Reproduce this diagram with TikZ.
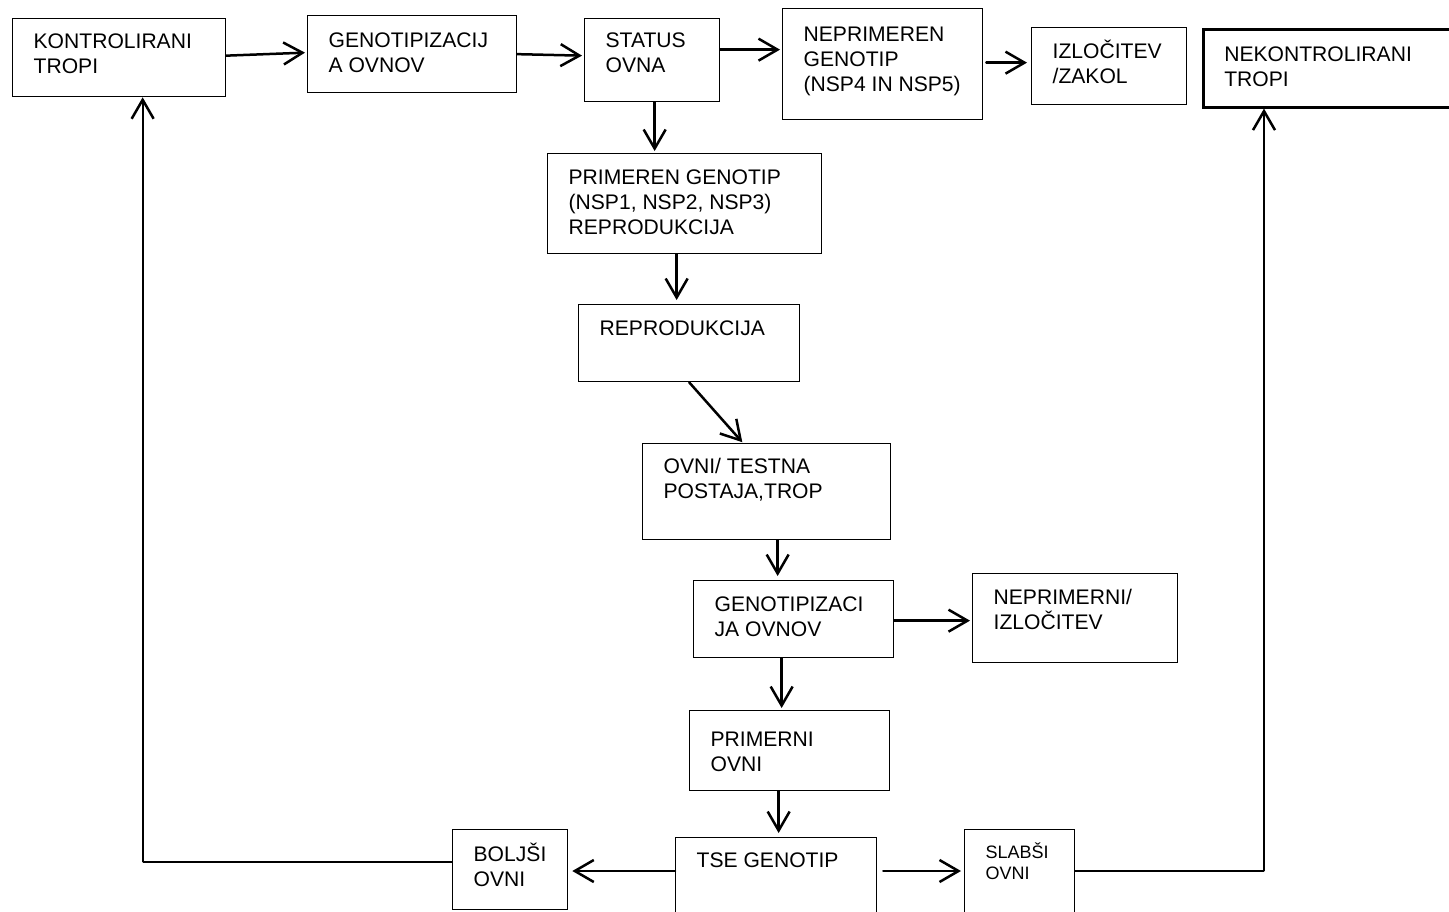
\documentclass[tikz,border=0pt]{standalone}
\usepackage{fontspec}
\setmainfont{Liberation Sans}
\usetikzlibrary{arrows.meta,calc}

% Box text: width, height, gap above first line, lines of text
\newcommand\flowtext[4]{%
  \parbox[c][#2][t]{#1}{\raggedright\leftskip=21pt\relax
    \vspace*{#3}\rule{0pt}{1em}#4}}

\tikzset{
  box/.style={draw=black, line width=1.3pt, anchor=north west, inner sep=0pt,
    font=\fontsize{21.1pt}{25pt}\selectfont},
  smallbox/.style={box, font=\fontsize{18pt}{21pt}\selectfont},
  heavybox/.style={box, line width=2.6pt},
  arr/.style={line width=2.5pt, line cap=round,
    -{Straight Barb[length=19pt,width=22pt,line width=2.5pt]}},
  link/.style={line width=2pt, line join=miter},
  longarr/.style={line width=2pt, line cap=round,
    -{Straight Barb[length=19pt,width=22pt,line width=2.5pt]}},
}

\begin{document}
\begin{tikzpicture}[x=1pt, y=-1pt]
\useasboundingbox (0,0) rectangle (1449,911);
\clip (0,0) rectangle (1449,911);

% top row
\node[box] (k)  at (12,18)   {\flowtext{213pt}{78pt}{9pt}{KONTROLIRANI\\TROPI}};
\node[box] (g)  at (307,15)  {\flowtext{209pt}{77pt}{11pt}{GENOTIPIZACIJ\\A OVNOV}};
\node[box] (s)  at (584,18)  {\flowtext{135pt}{83pt}{8pt}{STATUS\\OVNA}};
\node[box] (n)  at (782,8)   {\flowtext{200pt}{111pt}{12pt}{NEPRIMEREN\\GENOTIP\\(NSP4 IN NSP5)}};
\node[box] (i)  at (1031,27) {\flowtext{155pt}{77pt}{10pt}{IZLOČITEV\\/ZAKOL}};
\node[heavybox] (nk) at (1202,28) {\flowtext{270pt}{78pt}{11pt}{NEKONTROLIRANI\\TROPI}};

% central column
\node[box] (p)  at (547,153) {\flowtext{274pt}{100pt}{10pt}{PRIMEREN GENOTIP\\(NSP1, NSP2, NSP3)\\REPRODUKCIJA}};
\node[box] (r)  at (578,304) {\flowtext{221pt}{77pt}{10pt}{REPRODUKCIJA}};
\node[box] (o)  at (642,443) {\flowtext{248pt}{96pt}{9pt}{OVNI/ TESTNA\\POSTAJA,TROP}};
\node[box] (g2) at (693,580) {\flowtext{200pt}{77pt}{10pt}{GENOTIPIZACI\\JA OVNOV}};
\node[box] (ne) at (972,573) {\flowtext{205pt}{89pt}{10pt}{NEPRIMERNI/\\IZLOČITEV}};
\node[box] (pr) at (689,710) {\flowtext{200pt}{80pt}{15pt}{PRIMERNI\\OVNI}};

% bottom row
\node[box] (b)  at (452,829) {\flowtext{115pt}{80pt}{11pt}{BOLJŠI\\OVNI}};
\node[box] (t)  at (675,837) {\flowtext{201pt}{90pt}{9pt}{TSE GENOTIP}};
\node[smallbox] (sl) at (964,829) {\flowtext{110pt}{90pt}{11pt}{SLABŠI\\OVNI}};

% connector end points
\coordinate (s1) at ($(s.south)+(2.5,0)$);
\coordinate (p1) at ($(p.south)+(-8,0)$);
\coordinate (o1) at ($(o.south)+(11,0)$);
\coordinate (g1) at ($(g2.south)+(-12,0)$);
\coordinate (pr1) at ($(pr.south)+(-11,0)$);
\coordinate (t1) at ($(t.north west)+(0,34)$);
\coordinate (t2) at ($(t.north east)+(6,34)$);
\coordinate (b1) at ($(b.west)+(0,-8)$);
\coordinate (k1) at ($(k.south)+(23.5,0)$);
\coordinate (sl1) at ($(sl.east)+(0,-4)$);
\coordinate (nk1) at ($(nk.south west)+(62,0)$);

% top row connectors
\draw[arr] ($(k.east)+(0,-2)$) -- ($(g.west)+(-2,-1.5)$);
\draw[arr] (g.east) -- ($(s.west)+(-2,-4.5)$);
\draw[arr] ($(s.east)+(0,-10.5)$) -- ($(n.west)+(-2,-14.5)$);
\draw[arr] ($(n.east)+(3,-1.5)$) -- ($(i.west)+(-4,-3.5)$);

% central column connectors
\draw[arr, shorten >=2pt] (s1) -- (s1 |- p.north);
\draw[arr, shorten >=4pt] (p1) -- (p1 |- r.north);
\draw[arr, shorten >=1pt] (r.south) -- ($(o.north west)+(101,0)$);
\draw[arr, shorten >=4pt] (o1) -- (o1 |- g2.north);
\draw[arr, shorten >=2pt] (g1) -- (g1 |- pr.north);
\draw[arr, shorten >=2pt] ($(g2.east)+(0,1.5)$) -- ($(ne.west)+(0,2.5)$);
\draw[arr, shorten >=4pt] (pr1) -- (pr1 |- t.north);

% bottom row connectors
\draw[arr, shorten >=4pt] (t1) -- (t1 -| b.east);
\draw[arr, shorten >=3pt] (t2) -- (t2 -| sl.west);

% feedback lines back to the herds
\draw[link] (b1) -- (b1 -| k1);
\draw[longarr] (b1 -| k1) -- (k1);
\draw[link] (sl1) -- (sl1 -| nk1);
\draw[longarr] (sl1 -| nk1) -- (nk1);
\end{tikzpicture}
\end{document}
